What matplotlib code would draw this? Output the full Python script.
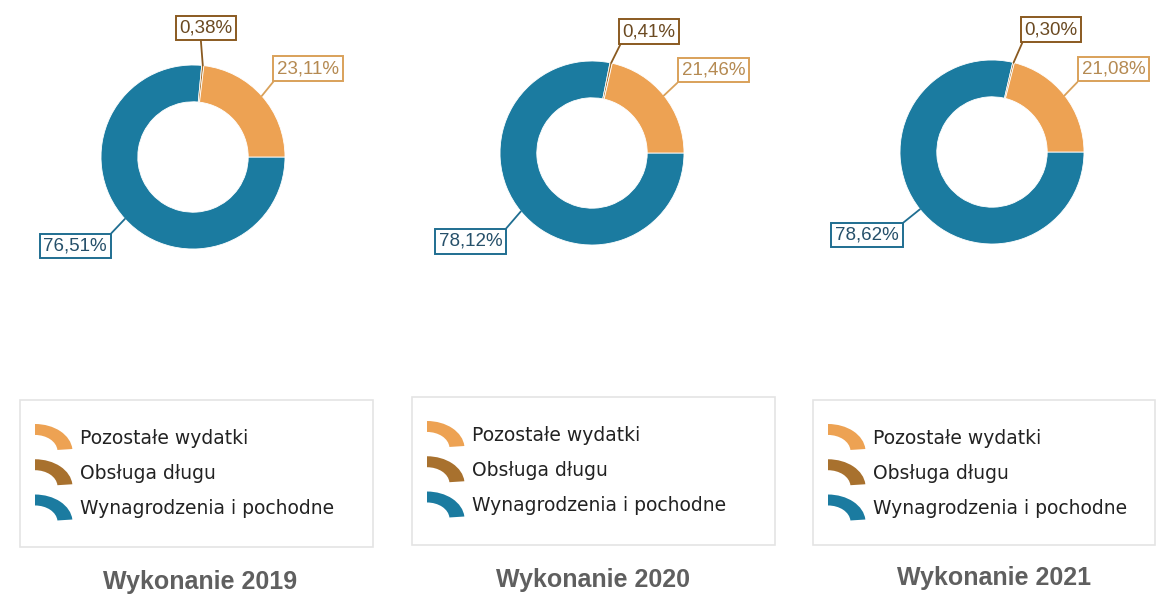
import matplotlib
matplotlib.use("Agg")
import matplotlib.pyplot as plt
import numpy as np
from matplotlib.patches import Wedge, PathPatch, Rectangle
from matplotlib.legend_handler import HandlerBase
from matplotlib.transforms import Affine2D

# data: order of slices clockwise from 3 o'clock
categories = ["Wynagrodzenia i pochodne", "Obsługa długu", "Pozostałe wydatki"]
years = ["2019", "2020", "2021"]
wynagrodzenia = [76.51, 78.12, 78.62]
obsluga = [0.38, 0.41, 0.30]
pozostale = [23.11, 21.46, 21.08]

colors = ["#1B7BA0", "#A8712E", "#EDA253"]
edge_colors = ["#1F6E91", "#8A5A20", "#D9A15A"]
text_colors = ["#26506A", "#6B4A22", "#B58A52"]

W, H = 1157, 599
fig = plt.figure(figsize=(W / 100, H / 100), dpi=100)
fig.patch.set_facecolor("white")

R = 92  # px per unit radius
centers = [(193, 157), (592, 153), (992, 152)]
# label box offsets (in radius units) for [blue, brown, orange]
label_pos = [
    [(-1.28, -0.97), (0.14, 1.40), (1.25, 0.96)],
    [(-1.32, -0.96), (0.62, 1.32), (1.32, 0.90)],
    [(-1.36, -0.90), (0.64, 1.33), (1.32, 0.90)],
]
# where the leader line leaves the label box
label_relpos = [
    [(1, 1), (0.4, 0), (0, 0)],
    [(1, 1), (0, 0), (0, 0)],
    [(1, 1), (0, 0), (0, 0)],
]

def fmt(v):
    return f"{v:.2f}".replace(".", ",") + "%"

for i, (cx, cy) in enumerate(centers):
    aw, ah = 400, 320
    ax = fig.add_axes([(cx - aw / 2) / W, (H - cy - ah / 2) / H, aw / W, ah / H])
    vals = [wynagrodzenia[i], obsluga[i], pozostale[i]]
    wedges, _ = ax.pie(vals, colors=colors, startangle=0, counterclock=False,
                       wedgeprops=dict(width=0.4, edgecolor="white", linewidth=0.6))
    ax.set_xlim(-aw / 2 / R, aw / 2 / R)
    ax.set_ylim(-ah / 2 / R, ah / 2 / R)
    ax.axis("off")
    for j, w in enumerate(wedges):
        mid = np.deg2rad((w.theta1 + w.theta2) / 2)
        xy = (np.cos(mid), np.sin(mid))
        ax.annotate(fmt(vals[j]), xy=xy, xytext=label_pos[i][j],
                    ha="center", va="center", fontsize=13.5, color=text_colors[j],
                    family="Liberation Sans",
                    bbox=dict(boxstyle="square,pad=0.2", fc="white",
                              ec=edge_colors[j], lw=1.4),
                    arrowprops=dict(arrowstyle="-", color=edge_colors[j], lw=1.3,
                                    shrinkA=0, shrinkB=0,
                                    relpos=label_relpos[i][j]))


class ArcHandler(HandlerBase):
    def create_artists(self, legend, orig_handle, xdescent, ydescent,
                       width, height, fontsize, trans):
        path = Wedge((0, 0), 1, 5, 90, width=0.4).get_path()
        t = Affine2D().scale(width, height).translate(-xdescent, -ydescent)
        p = PathPatch(t.transform_path(path), fc=orig_handle.get_facecolor(),
                      ec="none", transform=trans)
        return [p]


legend_boxes = [(20, 400, 373, 547), (412, 397, 775, 545), (813, 400, 1155, 545)]
title_pos = [(200, 582), (593, 580), (994, 578)]
legend_order = [2, 1, 0]

for i in range(3):
    x0, y0, x1, y1 = legend_boxes[i]
    fig.patches.append(Rectangle((x0 / W, 1 - y1 / H), (x1 - x0) / W, (y1 - y0) / H,
                                 transform=fig.transFigure, fc="white",
                                 ec="#E4E4E4", lw=1.2))
    handles = [Rectangle((0, 0), 1, 1, fc=colors[k]) for k in legend_order]
    labels = [categories[k] for k in legend_order]
    fig.legend(handles, labels, loc="upper left",
               bbox_to_anchor=((x0 + 15) / W, 1 - (y0 + 24) / H),
               frameon=False, handler_map={Rectangle: ArcHandler()},
               prop=dict(family="DejaVu Sans", size=13.5),
               handlelength=2.0, handleheight=1.87, labelspacing=0.42,
               handletextpad=0.4, borderpad=0, borderaxespad=0,
               labelcolor="#222222")
    tx, ty = title_pos[i]
    fig.text(tx / W, 1 - ty / H, "Wykonanie " + years[i], ha="center", va="center",
             fontsize=18, fontweight="bold", color="#5F5F5F", family="Liberation Sans")

fig.savefig("out.png", dpi=100)
